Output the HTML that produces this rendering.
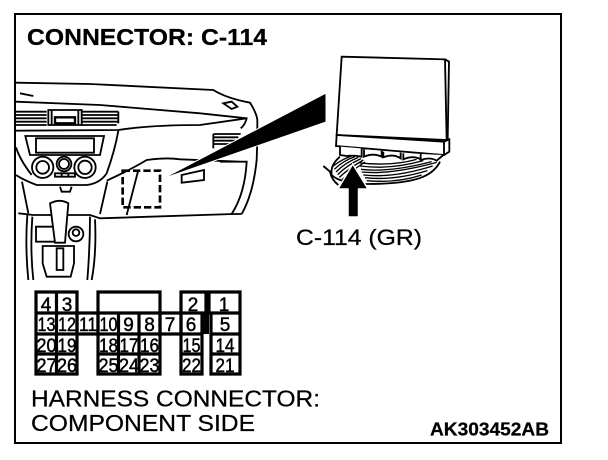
<!DOCTYPE html>
<html><head><meta charset="utf-8"><style>
html,body{margin:0;padding:0;background:#fff;width:608px;height:460px;overflow:hidden}
svg{display:block}
text{font-family:"Liberation Sans",sans-serif;fill:#000}
.n{font-size:19px;text-anchor:middle;stroke:#000;stroke-width:.45px}
.l{stroke:#000;stroke-width:.25px}
</style></head><body>
<svg width="608" height="460" viewBox="0 0 608 460" xmlns="http://www.w3.org/2000/svg">
<rect x="15" y="14" width="546" height="429" fill="#fff" stroke="#000" stroke-width="2"/>
<text class="l" x="27" y="45" font-size="23.5" font-weight="bold" textLength="240" lengthAdjust="spacingAndGlyphs">CONNECTOR: C-114</text>

<!-- dashboard -->
<g transform="translate(0,60) scale(.33333)" fill="none" stroke="#000" stroke-width="5.5">
<path d="M48 68L270 72L640 90Q680 115 750 128Q770 160 772 180Q772 250 770 300Q760 400 725 462"/>
<path d="M48 125L300 135L600 160L740 175Q735 195 722 205"/>
<path d="M60 100L100 108" />
<path d="M670 130L695 125L712 140L695 147Z"/>
<path d="M48 155H140M48 165H140M48 175H140M48 185H140M48 195H140M245 155H355M245 165H355M245 175H355M245 185H355M245 195H350M355 155V190"/>
<path d="M145 150H245V195H145Z"/><path d="M155 150V195M235 150V195"/>
<path d="M165 172H225V190H165Z" stroke-width="7"/>
<path d="M48 212L355 210Q450 195 600 195L740 175"/>
<path d="M355 212Q345 270 320 340Q300 370 260 375L110 375Q70 360 48 345"/>
<path d="M48 262Q60 300 95 345"/>
<path d="M76 228H312L300 285H90Z"/><path d="M108 235H282V278H108Z"/>
<circle cx="128" cy="322" r="32"/><circle cx="128" cy="322" r="19"/>
<circle cx="192" cy="312" r="22"/><circle cx="192" cy="312" r="15"/>
<circle cx="255" cy="322" r="32"/><circle cx="255" cy="322" r="20"/>
<path d="M165 340H225V350H165ZM185 340V350M205 340V350"/>
<path d="M66 365L85 460M322 365L300 462M180 380L185 395H210L215 380"/>
<path d="M55 460L100 465H270L300 475L700 462H725"/>
<path d="M320 362Q390 330 440 300Q500 292 540 298L720 305M660 305H740Q735 400 695 462"/>
<path d="M545 345L612 330V360L545 368Z"/>
<path d="M415 330L380 465"/>
<path d="M640 222H722M640 232H715M640 242H705M640 252H695M640 222V265"/>
<path d="M368 332H480V442H368Z" stroke-width="8" stroke-dasharray="22 9"/>
<path d="M82 465Q75 560 85 660M97 470Q90 570 100 660M270 470Q270 560 262 660M285 478Q290 580 275 660"/>
<path d="M108 500H165V545H108Z"/>
<path d="M128 558H222V610L212 650H140L128 610Z"/>
<path d="M150 430Q180 415 205 430L195 548H165Z" fill="#fff"/>
<path d="M170 565H190V630H170Z"/>
<circle cx="228" cy="522" r="22"/><circle cx="228" cy="518" r="10"/>
</g>

<!-- leader wedge -->
<path d="M162 179L326 93V122Z" fill="#000" stroke="#fff" stroke-width="1"/>

<!-- module -->
<g transform="translate(290,40) scale(.33333)" fill="none" stroke="#000" stroke-width="5.5">
<path d="M100 378L120 395Q125 420 145 435" />
<path d="M150 350Q120 375 125 405Q150 430 230 432Q350 432 400 410Q435 395 450 365" fill="#fff"/>
<g stroke-width="4">
<path d="M130 378Q155 358 185 348M133 388Q160 362 195 350M138 396Q165 368 205 352M143 404Q172 375 213 356M148 412Q178 384 220 360M155 420Q185 392 225 366"/>
<path d="M205 368Q300 380 380 358M210 378Q300 390 400 362M213 388Q300 398 425 365M215 396Q300 405 440 367M220 405Q310 415 428 378M225 413Q310 423 412 392M230 422Q320 430 395 405"/>
</g>
<path d="M155 50L465 58L470 300L140 285Z" fill="#fff"/>
<path d="M465 58L477 65L473 300"/>
<path d="M140 285L462 305L478 298V335L462 345L138 318Z" fill="#fff"/>
<path d="M462 305V345"/>
<path d="M150 320V345L170 348Q190 345 215 350V325M222 328V350Q250 338 275 350V332M280 335V352Q310 340 332 355V338M340 340V358Q370 345 392 358V342M392 342V360Q420 350 440 362L460 345" fill="#fff"/>
</g>

<!-- arrow -->
<path d="M352.700 164L368 189H358.500V217H348V189H338Z" fill="#000" stroke="#fff" stroke-width="1.500"/>
<text class="l" x="296" y="245" font-size="22.500" textLength="126" lengthAdjust="spacingAndGlyphs">C-114 (GR)</text>

<!-- connector grid -->
<g fill="none" stroke="#000" stroke-width="3.200">
<path d="M36 292H77V374H36ZM36 313H77M36 334H77M36 354H77M56.500 292V374"/>
<path d="M77 313H98V334H77Z"/>
<path d="M98 292H160V374H98ZM98 313H160M98 334H160M98 354H160M118.500 313V374M139 313V374"/>
<path d="M160 313H181V334H160Z"/>
<path d="M181 292H206V313H202V374H181ZM181 313H202M181 334H202M181 354H202"/>
<path d="M209 292H240V374H211V313H209ZM209 313H240M211 334H240M211 354H240"/>
</g>
<rect x="205" y="292" width="4" height="21" fill="#000"/>
<rect x="202" y="313" width="7" height="21" fill="#000"/>
<g>
<text class="n" x="46" y="311">4</text><text class="n" x="67" y="311">3</text>
<text class="n" x="193" y="311">2</text><text class="n" x="224" y="311">1</text>
<text class="n" x="46.500" y="331" textLength="18" lengthAdjust="spacingAndGlyphs">13</text>
<text class="n" x="67" y="331" textLength="18" lengthAdjust="spacingAndGlyphs">12</text>
<text class="n" x="88" y="331" textLength="18" lengthAdjust="spacingAndGlyphs">11</text>
<text class="n" x="108.500" y="331" textLength="18" lengthAdjust="spacingAndGlyphs">10</text>
<text class="n" x="128.500" y="331">9</text><text class="n" x="149.500" y="331">8</text>
<text class="n" x="170" y="331">7</text><text class="n" x="191" y="331">6</text>
<text class="n" x="225" y="331">5</text>
<text class="n" x="46.500" y="352" textLength="20" lengthAdjust="spacingAndGlyphs">20</text>
<text class="n" x="67" y="352" textLength="19" lengthAdjust="spacingAndGlyphs">19</text>
<text class="n" x="108.500" y="352" textLength="19" lengthAdjust="spacingAndGlyphs">18</text>
<text class="n" x="129" y="352" textLength="19" lengthAdjust="spacingAndGlyphs">17</text>
<text class="n" x="149.500" y="352" textLength="19" lengthAdjust="spacingAndGlyphs">16</text>
<text class="n" x="191.500" y="352" textLength="18" lengthAdjust="spacingAndGlyphs">15</text>
<text class="n" x="225" y="352" textLength="19" lengthAdjust="spacingAndGlyphs">14</text>
<text class="n" x="46.500" y="372" textLength="20" lengthAdjust="spacingAndGlyphs">27</text>
<text class="n" x="67" y="372" textLength="20" lengthAdjust="spacingAndGlyphs">26</text>
<text class="n" x="108.500" y="372" textLength="20" lengthAdjust="spacingAndGlyphs">25</text>
<text class="n" x="129" y="372" textLength="20" lengthAdjust="spacingAndGlyphs">24</text>
<text class="n" x="149.500" y="372" textLength="20" lengthAdjust="spacingAndGlyphs">23</text>
<text class="n" x="191.500" y="372" textLength="19" lengthAdjust="spacingAndGlyphs">22</text>
<text class="n" x="225" y="372" textLength="19" lengthAdjust="spacingAndGlyphs">21</text>
</g>

<text class="l" x="31" y="406.500" font-size="23" textLength="289" lengthAdjust="spacingAndGlyphs">HARNESS CONNECTOR:</text>
<text class="l" x="31" y="431" font-size="23" textLength="224" lengthAdjust="spacingAndGlyphs">COMPONENT SIDE</text>
<text class="l" x="430" y="435.500" font-size="18" font-weight="bold" textLength="119" lengthAdjust="spacingAndGlyphs">AK303452AB</text>
</svg>
</body></html>
